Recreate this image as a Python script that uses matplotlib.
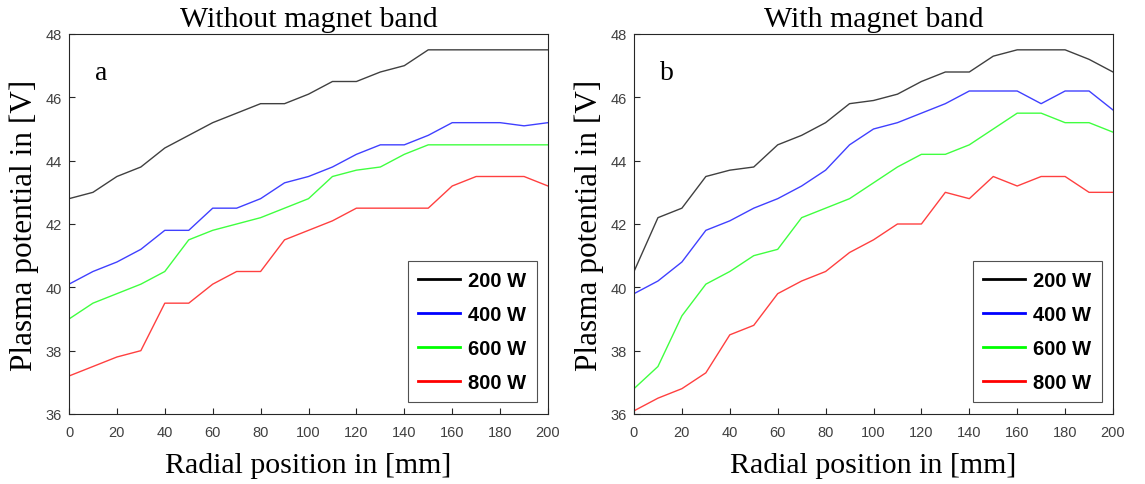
import numpy as np
import matplotlib
matplotlib.use("Agg")
import matplotlib.pyplot as plt
from matplotlib.lines import Line2D

# radial positions [mm]
r = list(range(0, 201, 10))
labels = ["200 W", "400 W", "600 W", "800 W"]
colors = ["black", "blue", "lime", "red"]

# without magnet band
a_200 = [42.8, 43.0, 43.5, 43.8, 44.4, 44.8, 45.2, 45.5, 45.8, 45.8, 46.1,
         46.5, 46.5, 46.8, 47.0, 47.5, 47.5, 47.5, 47.5, 47.5, 47.5]
a_400 = [40.1, 40.5, 40.8, 41.2, 41.8, 41.8, 42.5, 42.5, 42.8, 43.3, 43.5,
         43.8, 44.2, 44.5, 44.5, 44.8, 45.2, 45.2, 45.2, 45.1, 45.2]
a_600 = [39.0, 39.5, 39.8, 40.1, 40.5, 41.5, 41.8, 42.0, 42.2, 42.5, 42.8,
         43.5, 43.7, 43.8, 44.2, 44.5, 44.5, 44.5, 44.5, 44.5, 44.5]
a_800 = [37.2, 37.5, 37.8, 38.0, 39.5, 39.5, 40.1, 40.5, 40.5, 41.5, 41.8,
         42.1, 42.5, 42.5, 42.5, 42.5, 43.2, 43.5, 43.5, 43.5, 43.2]

# with magnet band
b_200 = [40.5, 42.2, 42.5, 43.5, 43.7, 43.8, 44.5, 44.8, 45.2, 45.8, 45.9,
         46.1, 46.5, 46.8, 46.8, 47.3, 47.5, 47.5, 47.5, 47.2, 46.8]
b_400 = [39.8, 40.2, 40.8, 41.8, 42.1, 42.5, 42.8, 43.2, 43.7, 44.5, 45.0,
         45.2, 45.5, 45.8, 46.2, 46.2, 46.2, 45.8, 46.2, 46.2, 45.6]
b_600 = [36.8, 37.5, 39.1, 40.1, 40.5, 41.0, 41.2, 42.2, 42.5, 42.8, 43.3,
         43.8, 44.2, 44.2, 44.5, 45.0, 45.5, 45.5, 45.2, 45.2, 44.9]
b_800 = [36.1, 36.5, 36.8, 37.3, 38.5, 38.8, 39.8, 40.2, 40.5, 41.1, 41.5,
         42.0, 42.0, 43.0, 42.8, 43.5, 43.2, 43.5, 43.5, 43.0, 43.0]

W, H = 1145, 485
fig = plt.figure(figsize=(W / 100, H / 100), dpi=100)

serif = ["Liberation Serif", "DejaVu Serif"]
sans = ["Liberation Sans", "DejaVu Sans"]

panels = [
    (69, "Without magnet band", "a", [a_200, a_400, a_600, a_800]),
    (634, "With magnet band", "b", [b_200, b_400, b_600, b_800]),
]

for x0, title, letter, series in panels:
    ax = fig.add_axes([x0 / W, (H - 415) / H, 479 / W, 380 / H])
    for ys, c in zip(series, colors):
        ax.plot(r, ys, color=c, lw=1.0, alpha=0.75)
    ax.set_xlim(0, 200)
    ax.set_ylim(36, 48)
    ax.set_xticks(range(0, 201, 20))
    ax.set_yticks(range(36, 49, 2))
    ax.tick_params(direction="in", length=4, width=0.8, colors="#262626",
                   labelsize=10.5, labelcolor="#404040", top=False, right=False)
    ax.tick_params(axis="x", pad=8)
    ax.tick_params(axis="y", pad=5)
    for lab in ax.get_xticklabels() + ax.get_yticklabels():
        lab.set_family(sans)
    for s in ax.spines.values():
        s.set_color("#262626")
        s.set_linewidth(0.8)
    ax.set_title(title, family=serif, fontsize=21.5, pad=6)
    ax.set_xlabel("Radial position in [mm]", family=serif, fontsize=21.5, labelpad=9)
    ax.set_ylabel("Plasma potential in [V]", family=serif, fontsize=22.5, labelpad=5)
    ax.text(0.055, 0.9, letter, transform=ax.transAxes, family=serif,
            fontsize=20, va="center", ha="left")
    handles = [Line2D([0], [0], color=c, lw=2) for c in colors]
    leg = ax.legend(handles, labels, loc="lower right",
                    prop={"family": sans, "weight": "bold", "size": 14.5},
                    frameon=True, fancybox=False, handlelength=2.1,
                    labelspacing=0.75, borderpad=0.5, handletextpad=0.4,
                    borderaxespad=0, bbox_to_anchor=(0.976, 0.031))
    leg.get_frame().set_edgecolor("#262626")
    leg.get_frame().set_linewidth(0.8)

fig.savefig("out.png", dpi=100)
